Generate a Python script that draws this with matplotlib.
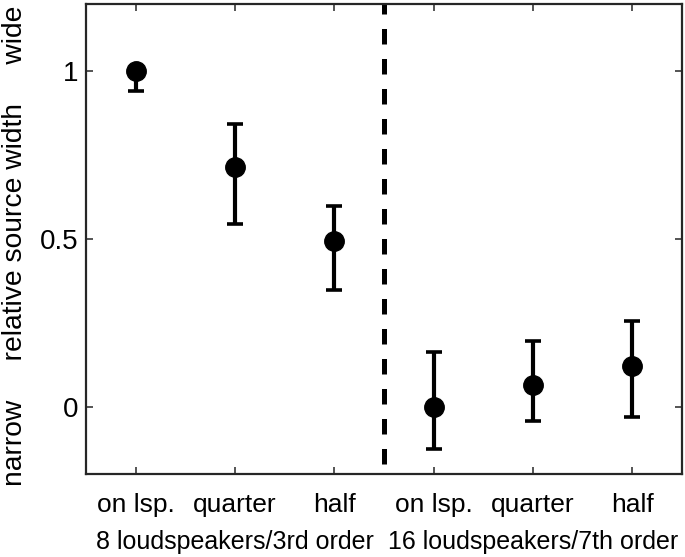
import matplotlib
matplotlib.use('Agg')
import matplotlib.pyplot as plt
import matplotlib.transforms as mtransforms

plt.rcParams['font.family'] = ['Liberation Sans', 'DejaVu Sans']

# conditions and results
conditions = ['on lsp.', 'quarter', 'half', 'on lsp.', 'quarter', 'half']
groups = ['8 loudspeakers/3rd order', '16 loudspeakers/7th order']
group_centers = [2, 5]
means = [1.0, 0.714, 0.494, 0.0, 0.065, 0.122]
upper = [1.0, 0.842, 0.598, 0.163, 0.196, 0.256]
lower = [0.941, 0.545, 0.348, -0.126, -0.042, -0.029]

x = list(range(1, len(means) + 1))
err_lo = [m - l for m, l in zip(means, lower)]
err_hi = [u - m for m, u in zip(means, upper)]

fig = plt.figure(figsize=(6.85, 5.57), dpi=100)
ax = fig.add_axes([0.1255, 0.149, 0.870, 0.8438])

ax.errorbar(x, means, yerr=[err_lo, err_hi], fmt='o', color='black',
            markersize=14, elinewidth=3.0, capsize=6.1, capthick=2.6)

ax.plot([3.5, 3.5], [1.2, -0.2], color='black', lw=3.6,
        linestyle=(1.1, (3.1, 2.9)), clip_on=True)

ax.set_xlim(0.5, 6.5)
ax.set_ylim(-0.2, 1.2)
ax.set_xticks(x)
ax.set_xticklabels(conditions, fontsize=19)
ax.set_yticks([0, 0.5, 1])
ax.set_yticklabels(['0', '0.5', '1'], fontsize=20)

for s in ax.spines.values():
    s.set_linewidth(1.6)
    s.set_color('#262626')
ax.tick_params(direction='in', top=True, right=True, length=5, width=1.1,
               color='#262626')
ax.tick_params(axis='x', pad=13.5)
ax.tick_params(axis='y', pad=5.5)

trans = mtransforms.blended_transform_factory(ax.transData, fig.transFigure)
for gx, g in zip(group_centers, groups):
    ax.text(gx, 1 - 549 / 557, g, transform=trans, ha='center',
            va='baseline', fontsize=18)

fig.text(15.5 / 685, 1 - 246 / 557,
         'narrow     relative source width     wide',
         rotation=90, ha='center', va='center', fontsize=20.3)

plt.savefig('out.png', dpi=100)
